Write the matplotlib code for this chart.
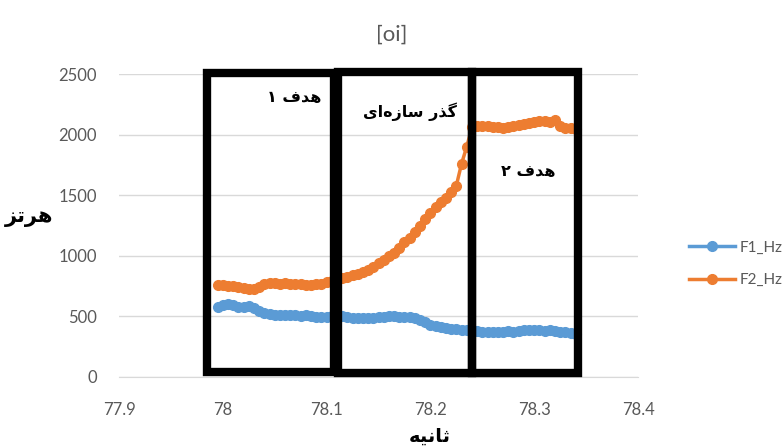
import matplotlib
matplotlib.use("Agg")
import matplotlib.pyplot as plt
from matplotlib.patches import Rectangle
import numpy as np

# formant tracks, one sample every 5 ms
t0 = 77.995
dt = 0.005
f1_hz = [575, 590, 605, 595, 580, 575, 585, 570, 545, 530,
         520, 515, 510, 510, 512, 508, 505, 510, 505, 498,
         495, 497, 500, 500, 505, 495, 490, 488, 490, 487,
         490, 495, 493, 500, 505, 498, 492, 494, 488, 470,
         450, 432, 420, 410, 403, 400, 395, 390, 385, 380,
         378, 372, 368, 370, 372, 375, 378, 375, 380, 385,
         388, 390, 385, 380, 385, 378, 372, 368, 362, 358]
f2_hz = [760, 755, 752, 748, 745, 738, 730, 725, 745, 765,
         775, 772, 768, 775, 770, 765, 768, 760, 755, 765,
         770, 780, 790, 800, 815, 828, 840, 852, 865, 885,
         910, 940, 965, 995, 1025, 1065, 1110, 1150, 1195, 1250,
         1300, 1350, 1405, 1445, 1480, 1530, 1580, 1760, 1900, 2060,
         2070, 2075, 2070, 2065, 2060, 2058, 2065, 2075, 2080, 2090,
         2095, 2100, 2110, 2115, 2105, 2120, 2070, 2055, 2052, 2050]
series_names = ["F1_Hz", "F2_Hz"]

x_ticks = [77.9, 78.0, 78.1, 78.2, 78.3, 78.4]
x_tick_labels = ["77.9", "78", "78.1", "78.2", "78.3", "78.4"]
y_ticks = [0, 500, 1000, 1500, 2000, 2500]

title = "[oi]"
ylabel = "هرتز"
xlabel = "ثانیه"
box_labels = ["هدف ۱", "گذر سازه‌ای", "هدف ۲"]

# (left, right, bottom, top) of the three marked segments
boxes = [(77.9852, 78.107, 40, 2510),
         (78.1105, 78.2405, 30, 2520),
         (78.2405, 78.342, 30, 2520)]

# matplotlib does no arabic shaping, so pick presentation forms by hand
FORMS = {
    'ا': ('\uFE8D', '\uFE8E', None, None),
    'ت': ('\uFE95', '\uFE96', '\uFE97', '\uFE98'),
    'ث': ('\uFE99', '\uFE9A', '\uFE9B', '\uFE9C'),
    'د': ('\uFEA9', '\uFEAA', None, None),
    'ذ': ('\uFEAB', '\uFEAC', None, None),
    'ر': ('\uFEAD', '\uFEAE', None, None),
    'ز': ('\uFEAF', '\uFEB0', None, None),
    'س': ('\uFEB1', '\uFEB2', '\uFEB3', '\uFEB4'),
    'ف': ('\uFED1', '\uFED2', '\uFED3', '\uFED4'),
    'ن': ('\uFEE5', '\uFEE6', '\uFEE7', '\uFEE8'),
    'ه': ('\uFEE9', '\uFEEA', '\uFEEB', '\uFEEC'),
    'ی': ('\uFBFC', '\uFBFD', '\uFBFE', '\uFBFF'),
    'گ': ('\uFB92', '\uFB93', '\uFB94', '\uFB95'),
}


def shape(s):
    out = []
    for k, c in enumerate(s):
        if c not in FORMS:
            if c != '\u200c':
                out.append(c)
            continue
        iso, fin, ini, med = FORMS[c]
        prev = s[k - 1] if k > 0 else None
        nxt = s[k + 1] if k + 1 < len(s) else None
        join_prev = prev in FORMS and FORMS[prev][2] is not None
        join_next = nxt in FORMS and ini is not None
        if join_prev and join_next:
            out.append(med)
        elif join_prev:
            out.append(fin)
        elif join_next:
            out.append(ini)
        else:
            out.append(iso)
    return ''.join(reversed(out))


plt.rcParams['font.family'] = ['Lato', 'DejaVu Sans']
grey = '#595959'

fig = plt.figure(figsize=(7.84, 4.48), dpi=100)
ax = fig.add_axes([0.1518, 0.1585, 0.662, 0.6763])

t = t0 + dt * np.arange(len(f1_hz))
ax.plot(t, f1_hz, color='#5B9BD5', lw=2.5, marker='o', ms=7, label=series_names[0], zorder=3)
ax.plot(t, f2_hz, color='#ED7D31', lw=2.5, marker='o', ms=7, label=series_names[1], zorder=3)

for (l, r, b, tp) in boxes:
    ax.add_patch(Rectangle((l, b), r - l, tp - b, fill=False, ec='black', lw=6,
                           clip_on=False, zorder=5))

ax.set_xlim(77.9, 78.4)
ax.set_ylim(0, 2500)
ax.set_xticks(x_ticks)
ax.set_xticklabels(x_tick_labels)
ax.set_yticks(y_ticks)
ax.tick_params(length=0, labelsize=12, labelcolor=grey)
ax.tick_params(axis='y', pad=16)
ax.tick_params(axis='x', pad=18)
ax.grid(axis='y', color='#d9d9d9', lw=1)
ax.set_axisbelow(True)
for side in ['top', 'right', 'left']:
    ax.spines[side].set_visible(False)
ax.spines['bottom'].set_color('#d9d9d9')

fig.text(0.5, 1 - 35 / 448, title, ha='center', va='center', fontsize=16, color=grey)
fig.text(29 / 784, 1 - 217 / 448, shape(ylabel), ha='center', va='center',
         fontsize=15, fontweight='bold', family='DejaVu Sans')
fig.text(430 / 784, 1 - 436 / 448, shape(xlabel), ha='center', va='center',
         fontsize=14, fontweight='bold', family='DejaVu Sans')

label_pos = [(294, 97), (410, 112), (528, 171)]
for txt, (px, py) in zip(box_labels, label_pos):
    fig.text(px / 784, 1 - py / 448, shape(txt), ha='center', va='center',
             fontsize=11.5, fontweight='bold', family='DejaVu Sans')

fig.legend(loc='center left', bbox_to_anchor=(675 / 784, 1 - 264 / 448), frameon=False,
           fontsize=11, labelcolor=grey, handlelength=3, labelspacing=1.2,
           handletextpad=0.3)

fig.savefig('out.png', dpi=100)
